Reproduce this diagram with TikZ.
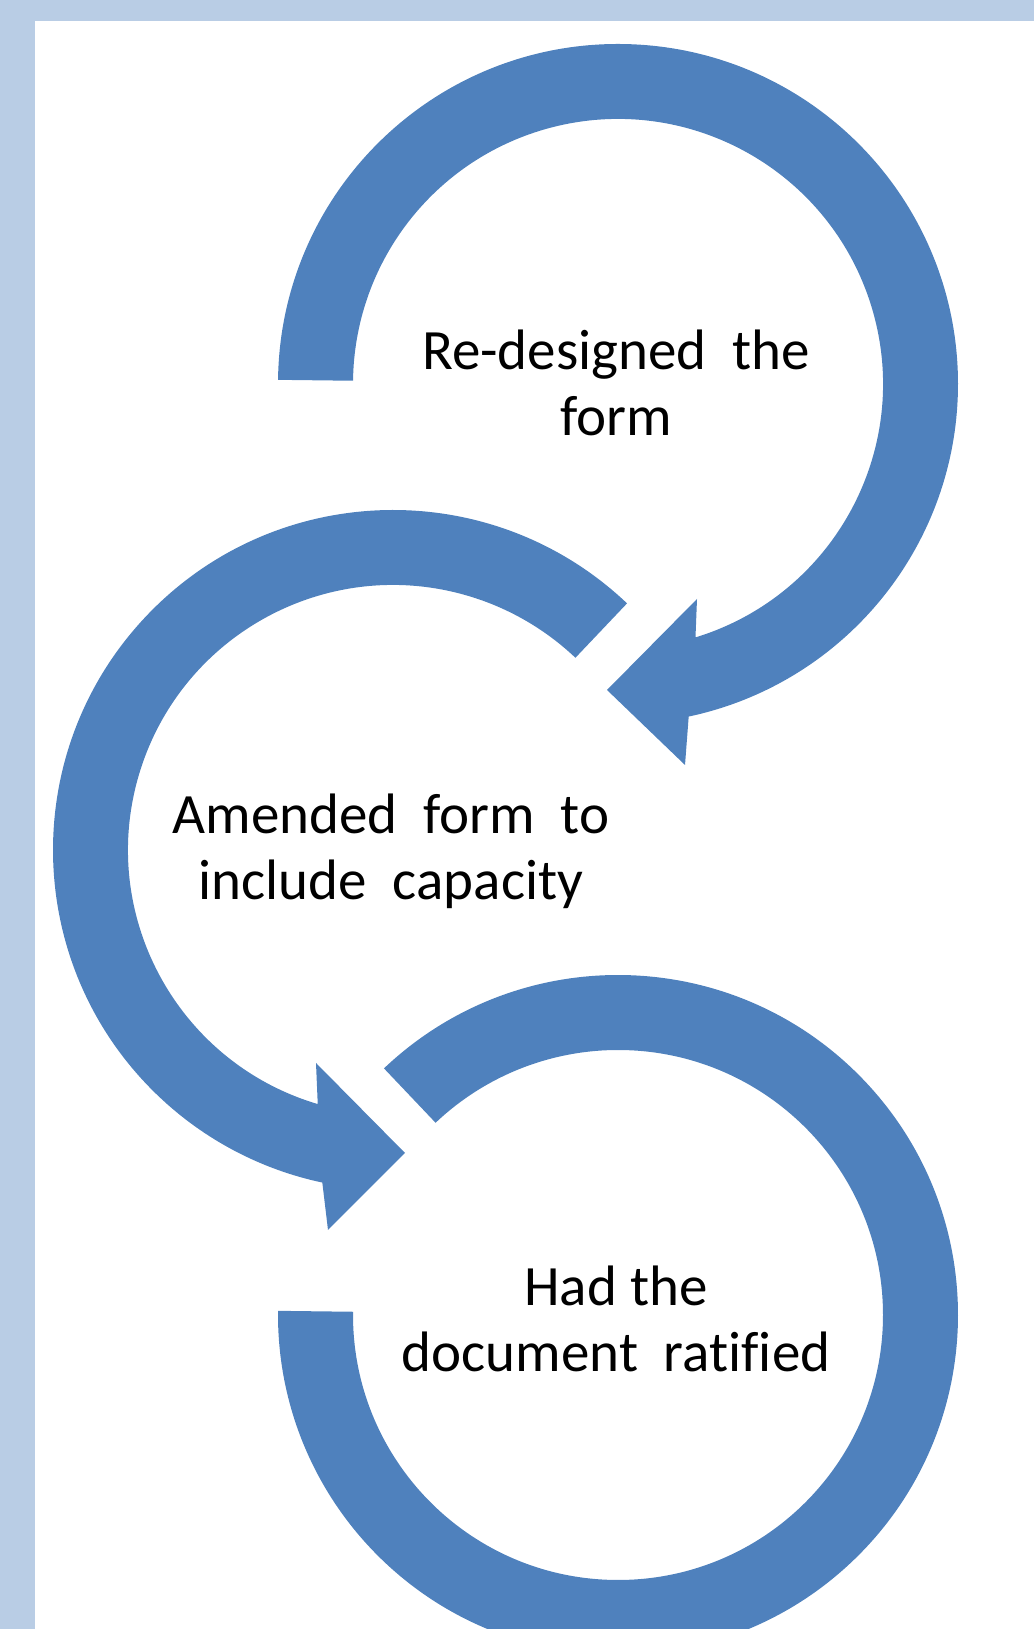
\documentclass[tikz,border=0pt]{standalone}
\usepackage{fontspec}
\setmainfont[Ligatures=CommonOff]{Carlito}
\usetikzlibrary{calc}
\definecolor{ringblue}{HTML}{4F81BD}
\definecolor{bandblue}{HTML}{B9CDE5}
\begin{document}
\begin{tikzpicture}[x=1pt,y=1pt,
  ring/.style={fill=ringblue},
  band/.style={fill=bandblue},
  steptext/.style={align=center,font=\fontsize{57}{66}\selectfont}]
\useasboundingbox (0,0) rectangle (1034,1629);
\clip (0,0) rectangle (1034,1629);

\fill[band] (0,0) rectangle (35,1629);
\fill[band] (0,1608) rectangle (1034,1629);

\coordinate (c1) at (618,1245);
\coordinate (c2) at (393,779);
\coordinate (c3) at (618,314);

% top ring, arrow into the middle one
\fill[ring] ($(c1)+(179.3:340)$) arc[start angle=179.3,end angle=-78,radius=340pt]
  -- (685,864) -- (607,939) -- (697,1030)
  -- ($(c1)+(-73:265)$) arc[start angle=-73,end angle=179.3,radius=265pt] -- cycle;

% middle ring, arrow into the bottom one
\fill[ring] ($(c2)+(46.5:340)$) arc[start angle=46.5,end angle=258,radius=340pt]
  -- (328,399) -- (405,476) -- (316,566)
  -- ($(c2)+(253.5:265)$) arc[start angle=253.5,end angle=46.5,radius=265pt] -- cycle;

% bottom ring
\fill[ring] ($(c3)+(133.5:340)$) arc[start angle=133.5,end angle=-180.7,radius=340pt]
  -- ($(c3)+(-180.7:265)$) arc[start angle=-180.7,end angle=133.5,radius=265pt] -- cycle;

\node[steptext] (redesign) at (616,1246) {Re-designed\ \ the\\form};
\node[steptext] (amend) at (391,778) {Amended\ \ form\ \ to\\include\ \ capacity};
\node[steptext] (ratify) at (616,310) {Had the\\document\ \ ratified};
\end{tikzpicture}
\end{document}
